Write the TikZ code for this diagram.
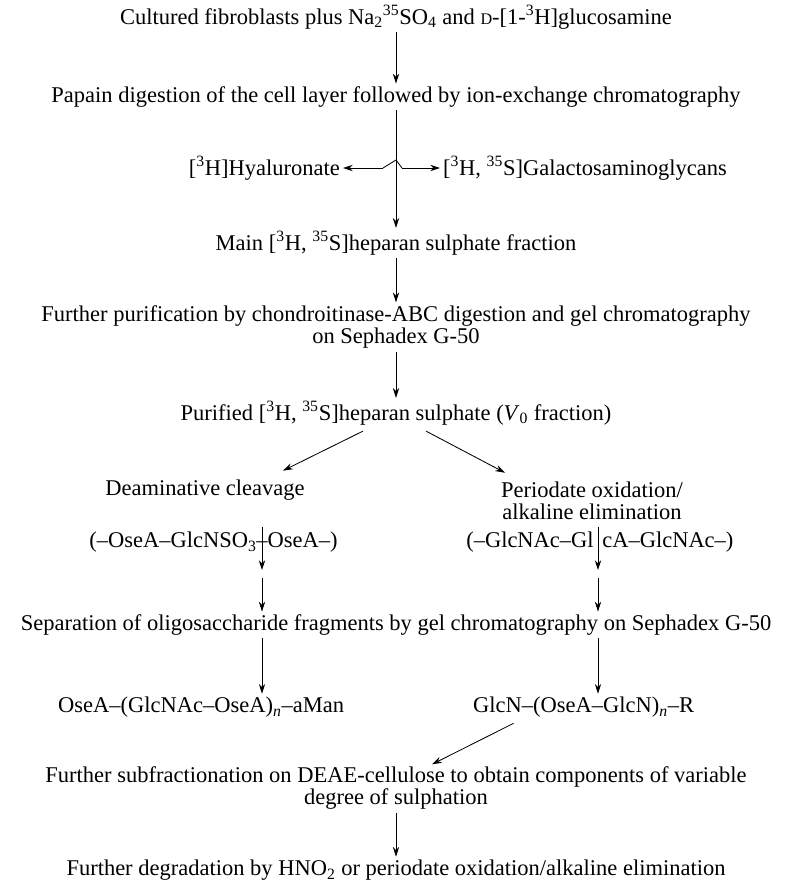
\documentclass[tikz,border=0pt]{standalone}
\usepackage{fontspec}
\setmainfont{Liberation Serif}
\usetikzlibrary{arrows.meta,calc}
\newcommand{\tsup}[1]{\textsuperscript{#1}}
\newcommand{\tsub}[1]{\textsubscript{#1}}
\newcommand{\smallD}{{\fontsize{11.5}{11.5}\selectfont D}}
\tikzset{tnode/.style = {align = center,
                         inner sep = 2pt,
                         font = \fontsize{16}{16}\selectfont},
         fnode/.style = {inner sep = 0pt,
                         font = \fontsize{16}{16}\selectfont},
         arr/.style = {-{Stealth[length = 7pt, width = 4.5pt]},
                       line width = 0.6pt},
         ln/.style = {line width = 0.6pt}}

\begin{document}
\begin{tikzpicture}[x = 0.025cm, y = -0.025cm]
		\useasboundingbox (0,0) rectangle (800,888);
		\node[tnode] (1) at (396,17) {Cultured fibroblasts plus Na\tsub{2}\tsup{35}SO\tsub{4} and \smallD-[1-\tsup{3}H]glucosamine};
		\node[tnode] (2) at (396,97) {Papain digestion of the cell layer followed by ion-exchange chromatography};
		\coordinate (hl) at (383,168);
		\coordinate (hop) at (396,160);
		\coordinate (hr) at (402,168);
		\node[tnode, anchor = east] (3) at (343,168) {[\tsup{3}H]Hyaluronate};
		\node[tnode, anchor = west] (4) at (440,168) {[\tsup{3}H, \tsup{35}S]Galactosaminoglycans};
		\node[tnode] (5) at (396,243) {Main [\tsup{3}H, \tsup{35}S]heparan sulphate fraction};
		\node[tnode] (6) at (396,327) {Further purification by chondroitinase-ABC digestion and gel chromatography\\on Sephadex G-50};
		\node[tnode] (7) at (396,413) {Purified [\tsup{3}H, \tsup{35}S]heparan sulphate (\textit{V}\tsub{0} fraction)};
		\node[tnode] (8) at (205,490) {Deaminative cleavage};
		\node[tnode] (9) at (592,501) {Periodate oxidation/\\alkaline elimination};
		\node[fnode, anchor = east] (10) at (257,542) {(--OseA--GlcNSO\tsub{3}};
		\node[fnode, anchor = west] (11) at (256,542) {--OseA--)};
		\node[fnode, anchor = east] (12) at (594,542) {(--GlcNAc--Gl};
		\node[fnode, anchor = west] (13) at (602,542) {cA--GlcNAc--)};
		\coordinate (a1) at (262,527);
		\coordinate (a2) at (262,570);
		\coordinate (a3) at (262,578);
		\coordinate (b1) at (598,527);
		\coordinate (b2) at (598,570);
		\coordinate (b3) at (598,578);
		\node[tnode] (14) at (396,625) {Separation of oligosaccharide fragments by gel chromatography on Sephadex G-50};
		\node[tnode, anchor = west] (15) at (55,707) {OseA--(GlcNAc--OseA)\tsub{\textit{n}}--aMan};
		\node[tnode, anchor = west] (16) at (470,707) {GlcN--(OseA--GlcN)\tsub{\textit{n}}--R};
		\node[tnode] (17) at (396,788) {Further subfractionation on DEAE-cellulose to obtain components of variable\\degree of sulphation};
		\node[tnode] (18) at (396,870) {Further degradation by HNO\tsub{2} or periodate oxidation/alkaline elimination};
		\path (1) edge[arr] (2);
		\path (2) edge[arr] (5);
		\draw[ln] (hl) -- (hop) -- (hr);
		\path (hl) edge[arr] (3);
		\path (hr) edge[arr] (4);
		\path (5) edge[arr] (6);
		\path (6) edge[arr] (7);
		\path ($(7.south)+(-33,3)$) edge[arr] ($(8.north)+(78,-6)$);
		\path ($(7.south)+(30,3)$) edge[arr] ($(9.north)+(-87,-6)$);
		\path (a1) edge[arr] (a2);
		\path (b1) edge[arr] (b2);
		\path (a3) edge[arr] (a3 |- 14.north);
		\path (b3) edge[arr] (b3 |- 14.north);
		\path (a3 |- 14.south) edge[arr] (a3 |- 15.north);
		\path (b3 |- 14.south) edge[arr] (b3 |- 16.north);
		\path ($(16.south)+(-70,3)$) edge[arr] ($(17.north)+(36,1)$);
		\path (17) edge[arr] (18);
	\end{tikzpicture}
\end{document}
